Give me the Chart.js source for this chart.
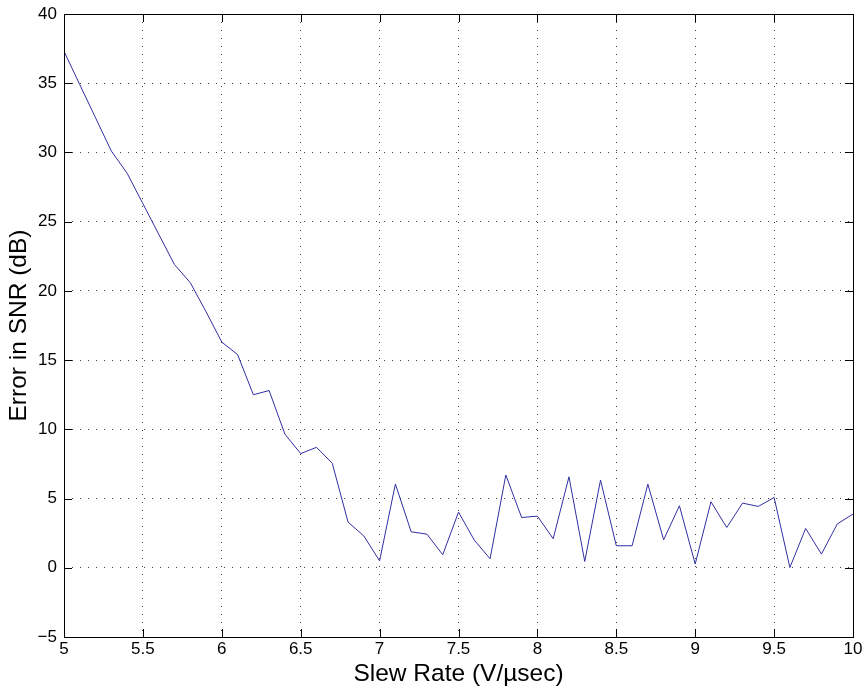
<!DOCTYPE html>
<html>
<head>
<meta charset="utf-8">
<script src="https://cdn.jsdelivr.net/npm/chart.js@4/dist/chart.umd.min.js"></script>
<style>
  html, body { margin: 0; padding: 0; background: #fff; }
  #wrap { width: 864px; height: 693px; }
</style>
</head>
<body>
<div id="wrap"><canvas id="c"></canvas></div>
<script>
// slew rate steps (V/usec) and the measured SNR error (dB)
const slewRate = [5.0, 5.1, 5.2, 5.3, 5.4, 5.5, 5.6, 5.7, 5.8, 5.9,
                  6.0, 6.1, 6.2, 6.3, 6.4, 6.5, 6.6, 6.7, 6.8, 6.9,
                  7.0, 7.1, 7.2, 7.3, 7.4, 7.5, 7.6, 7.7, 7.8, 7.9,
                  8.0, 8.1, 8.2, 8.3, 8.4, 8.5, 8.6, 8.7, 8.8, 8.9,
                  9.0, 9.1, 9.2, 9.3, 9.4, 9.5, 9.6, 9.7, 9.8, 9.9, 10.0];
const snrError = [37.3, 34.9, 32.5, 30.1, 28.5, 26.3, 24.1, 21.9, 20.6, 18.5,
                  16.3, 15.4, 12.5, 12.8, 9.65, 8.25, 8.7, 7.55, 3.3, 2.3,
                  0.5, 6.05, 2.6, 2.43, 0.94, 4.02, 2.0, 0.65, 6.7, 3.63,
                  3.73, 2.1, 6.57, 0.46, 6.33, 1.59, 1.59, 6.04, 2.02, 4.48,
                  0.27, 4.77, 2.91, 4.67, 4.43, 5.08, 0.02, 2.84, 0.99, 3.16, 3.88];
const xTicks = [5, 5.5, 6, 6.5, 7, 7.5, 8, 8.5, 9, 9.5, 10];
const yTicks = [-5, 0, 5, 10, 15, 20, 25, 30, 35, 40];

const FONT = "'Liberation Sans', Arial, Helvetica, sans-serif";

// box frame + inward tick marks, matlab style
const frameTicks = {
  id: 'frameTicks',
  afterDraw(chart) {
    const ctx = chart.ctx, a = chart.chartArea;
    const xs = chart.scales.x, ys = chart.scales.y;
    const len = 8;
    ctx.save();
    ctx.strokeStyle = '#000';
    ctx.lineWidth = 1;
    ctx.beginPath();
    xTicks.forEach(v => {
      const px = Math.round(xs.getPixelForValue(v)) + 0.5;
      ctx.moveTo(px, a.bottom); ctx.lineTo(px, a.bottom - len);
      ctx.moveTo(px, a.top); ctx.lineTo(px, a.top + len);
    });
    yTicks.forEach(v => {
      const py = Math.round(ys.getPixelForValue(v)) + 0.5;
      ctx.moveTo(a.left, py); ctx.lineTo(a.left + len, py);
      ctx.moveTo(a.right, py); ctx.lineTo(a.right - len, py);
    });
    ctx.stroke();
    ctx.strokeRect(Math.round(a.left) + 0.5, Math.round(a.top) + 0.5,
                   Math.round(a.right - a.left), Math.round(a.bottom - a.top));
    ctx.restore();
  }
};

new Chart(document.getElementById('c'), {
  type: 'line',
  data: {
    datasets: [{
      data: slewRate.map((x, i) => ({x: x, y: snrError[i]})),
      borderColor: '#2f2fa0',
      borderWidth: 1,
      pointRadius: 0,
      tension: 0,
      fill: false
    }]
  },
  options: {
    responsive: true,
    maintainAspectRatio: false,
    animation: false,
    layout: {padding: {top: 14, right: 11, left: 0, bottom: 0}},
    plugins: {legend: {display: false}, tooltip: {enabled: false}},
    scales: {
      x: {
        type: 'linear',
        min: 5, max: 10,
        afterBuildTicks: s => { s.ticks = xTicks.map(v => ({value: v})); },
        afterFit: s => { s.height = 56; s.paddingLeft = 0; s.paddingRight = 0; },
        ticks: {
          color: '#000', padding: 2, maxRotation: 0,
          font: {family: FONT, size: 17},
          callback: v => String(v)
        },
        grid: {color: 'rgba(0,0,0,0.75)', lineWidth: 1, drawTicks: false},
        border: {display: false, dash: [1, 7]},
        title: {
          display: true, text: 'Slew Rate (V/\u00b5sec)', color: '#000',
          font: {family: FONT, size: 24.5}, padding: {top: 0, bottom: 4}
        }
      },
      y: {
        type: 'linear',
        min: -5, max: 40,
        afterBuildTicks: s => { s.ticks = yTicks.map(v => ({value: v})); },
        afterFit: s => { s.width = 64; s.paddingTop = 0; s.paddingBottom = 0; },
        ticks: {
          color: '#000', padding: 7,
          font: {family: FONT, size: 17},
          callback: v => String(v).replace('-', '\u2212')
        },
        grid: {color: 'rgba(0,0,0,0.75)', lineWidth: 1, drawTicks: false},
        border: {display: false, dash: [1, 7]},
        title: {
          display: true, text: 'Error in SNR (dB)', color: '#000',
          font: {family: FONT, size: 24.5}, padding: {top: 5, bottom: 0}
        }
      }
    }
  },
  plugins: [frameTicks]
});
</script>
</body>
</html>
